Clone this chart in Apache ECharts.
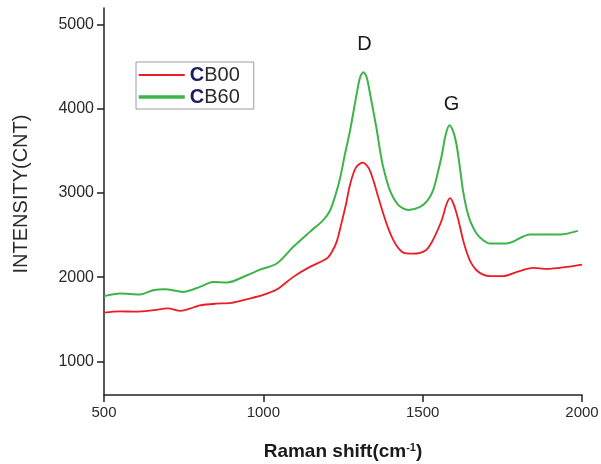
<!DOCTYPE html>
<html>
<head>
<meta charset="utf-8">
<script src="https://cdn.jsdelivr.net/npm/echarts@6/dist/echarts.min.js"></script>
<style>
  html, body { margin: 0; padding: 0; background: #fff; }
  #raman-chart { width: 601px; height: 464px; }
</style>
</head>
<body>
<div id="raman-chart"></div>
<script>
// Raman shift (cm-1) 与强度
const cb00Shift = [500, 550, 600, 650, 700, 740, 780, 800, 850, 900, 950, 1000, 1042, 1094, 1146, 1199, 1215, 1230, 1245, 1260, 1272, 1290, 1311, 1330, 1345, 1360, 1376, 1392, 1408, 1425, 1445, 1470, 1492, 1510, 1523, 1540, 1560, 1575, 1586, 1598, 1612, 1625, 1638, 1652, 1669, 1690, 1711, 1752, 1796, 1846, 1890, 1953, 2000]
const cb00Value = [1580, 1595, 1590, 1605, 1630, 1600, 1640, 1665, 1685, 1695, 1740, 1790, 1853, 2004, 2123, 2222, 2300, 2420, 2640, 2880, 3100, 3300, 3362, 3300, 3155, 2960, 2760, 2580, 2440, 2340, 2285, 2280, 2290, 2320, 2380, 2500, 2680, 2870, 2940, 2860, 2680, 2470, 2300, 2170, 2083, 2030, 2012, 2012, 2063, 2111, 2099, 2123, 2150]

const cb60Shift = [500, 550, 613, 654, 691, 748, 801, 842, 886, 949, 990, 1042, 1094, 1146, 1188, 1209, 1225, 1241, 1256, 1272, 1293, 1304, 1314, 1324, 1335, 1356, 1366, 1376, 1397, 1424, 1455, 1492, 1515, 1533, 1548, 1560, 1572, 1584, 1596, 1606, 1617, 1627, 1638, 1650, 1669, 1690, 1711, 1764, 1837, 1931, 1987]
const cb60Value = [1775, 1805, 1795, 1845, 1857, 1825, 1885, 1944, 1937, 2024, 2090, 2163, 2361, 2539, 2679, 2790, 2960, 3180, 3460, 3740, 4180, 4380, 4435, 4380, 4180, 3750, 3512, 3313, 3036, 2857, 2800, 2837, 2910, 3036, 3250, 3450, 3690, 3806, 3730, 3580, 3300, 3020, 2810, 2660, 2520, 2440, 2401, 2401, 2508, 2508, 2551]

const seriesNames = ['CB00', 'CB60']
const yTicks = [1000, 2000, 3000, 4000, 5000]
// 峰位标注
const peakLabels = [
  { name: 'D', shift: 1314, value: 4435 },
  { name: 'G', shift: 1584, value: 3806 }
]

const pairs = (xs, ys) => xs.map((x, i) => [x, ys[i]])

const myChart = echarts.init(document.getElementById('raman-chart'))
const font = 'Liberation Sans, Arial, sans-serif'

const option = {
  animation: false,
  grid: {
    left: 104,
    right: 19,
    top: 8,
    bottom: 69,
    outerBoundsMode: 'none',
    containLabel: false
  },
  legend: {
    orient: 'vertical',
    left: 136,
    top: 62,
    padding: [3, 14, 2, 1],
    itemGap: 2,
    itemWidth: 46,
    itemHeight: 14,
    borderColor: '#9a9aa8',
    borderWidth: 1,
    borderRadius: 0,
    data: [
      { name: seriesNames[0], itemStyle: { opacity: 0 }, lineStyle: { width: 2 } },
      { name: seriesNames[1], itemStyle: { opacity: 0 }, lineStyle: { width: 3.5 } }
    ],
    formatter: function (name) {
      return '{c|' + name.charAt(0) + '}{n|' + name.slice(1) + '}'
    },
    textStyle: {
      rich: {
        c: { fontFamily: font, fontSize: 20, lineHeight: 22, fontWeight: 'bold', color: '#1c1c66' },
        n: { fontFamily: font, fontSize: 20, lineHeight: 22, color: '#2a2a2a' }
      }
    }
  },
  xAxis: {
    type: 'value',
    min: 500,
    max: 2000,
    interval: 500,
    name: '{a|Raman shift(cm}{s|-1}{a|)}',
    nameLocation: 'middle',
    nameGap: 47,
    nameTextStyle: {
      rich: {
        a: { fontFamily: font, fontSize: 19, fontWeight: 'bold', color: '#1a1a1a' },
        s: { fontFamily: font, fontSize: 11, fontWeight: 'bold', color: '#1a1a1a', verticalAlign: 'top', padding: [0, 0, 8, 0] }
      }
    },
    axisLine: { onZero: false, lineStyle: { color: '#222', width: 1.5 } },
    axisTick: { show: true, length: 7, lineStyle: { color: '#222', width: 1.5 } },
    axisLabel: { fontFamily: font, fontSize: 15, color: '#2a2a2a', margin: 10, formatter: (v) => String(v) },
    splitLine: { show: false }
  },
  yAxis: {
    type: 'value',
    min: 600,
    max: 5200,
    name: 'INTENSITY(CNT)',
    nameLocation: 'middle',
    nameGap: 73,
    nameRotate: 90,
    nameTextStyle: { fontFamily: font, fontSize: 20, color: '#2a2a2a', padding: [0, 0, 0, 15] },
    axisLine: { show: true, onZero: false, lineStyle: { color: '#222', width: 1.5 } },
    axisTick: { show: true, length: 7, customValues: yTicks, lineStyle: { color: '#222', width: 1.5 } },
    axisLabel: { fontFamily: font, fontSize: 16, color: '#2a2a2a', margin: 10, customValues: yTicks, formatter: (v) => String(v) },
    splitLine: { show: false }
  },
  series: [
    {
      name: seriesNames[0],
      type: 'line',
      symbol: 'none',
      smooth: 0.3,
      color: '#ec1c24',
      lineStyle: { color: '#ec1c24', width: 1.8 },
      data: pairs(cb00Shift, cb00Value),
      z: 2
    },
    {
      name: seriesNames[1],
      type: 'line',
      symbol: 'none',
      smooth: 0.3,
      color: '#3cb44a',
      lineStyle: { color: '#3cb44a', width: 2 },
      data: pairs(cb60Shift, cb60Value),
      z: 3,
      markPoint: {
        symbol: 'circle',
        symbolSize: 0,
        silent: true,
        label: {
          show: true,
          position: 'inside',
          fontFamily: font,
          fontSize: 20,
          color: '#1a1a1a',
          formatter: (p) => p.name
        },
        data: [
          { name: peakLabels[0].name, coord: [peakLabels[0].shift, peakLabels[0].value], label: { offset: [1, -28] } },
          { name: peakLabels[1].name, coord: [peakLabels[1].shift, peakLabels[1].value], label: { offset: [2, -21] } }
        ]
      }
    }
  ]
}
myChart.setOption(option)
</script>
</body>
</html>
